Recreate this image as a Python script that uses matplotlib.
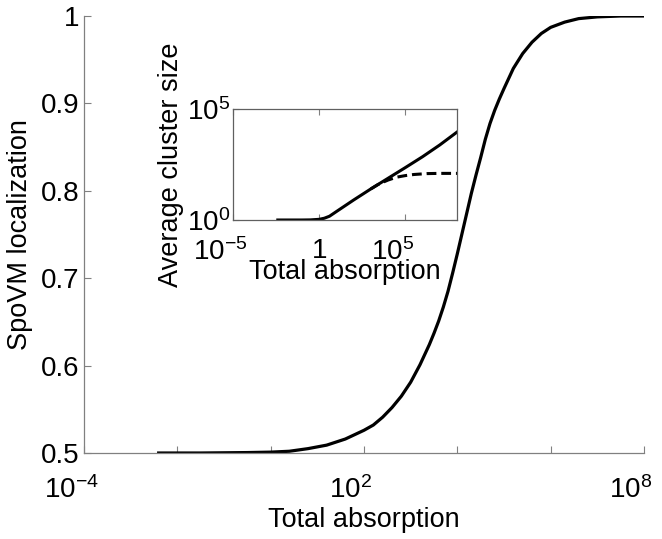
import numpy as np
import matplotlib
matplotlib.use("Agg")
import matplotlib.pyplot as plt
import matplotlib.transforms as mtransforms

plt.rcParams["font.family"] = ["Liberation Sans", "DejaVu Sans"]
plt.rcParams["mathtext.fontset"] = "custom"
plt.rcParams["mathtext.rm"] = "Liberation Sans"
plt.rcParams["mathtext.it"] = "Liberation Sans:italic"
plt.rcParams["mathtext.default"] = "regular"

# main curve: SpoVM localization vs total absorption (x given as log10)
main_logx = [-2.4, -1.5, -0.5, 0.0, 0.4, 0.8, 1.2, 1.6, 2.0, 2.2, 2.4, 2.6,
             2.8, 3.0, 3.2, 3.4, 3.5, 3.6, 3.7, 3.8, 3.9, 4.0, 4.1, 4.2, 4.3,
             4.4, 4.5, 4.6, 4.7, 4.8, 4.9, 5.0, 5.2, 5.4, 5.6, 5.8, 6.0, 6.3,
             6.6, 7.0, 7.5, 8.0]
main_y = [0.500, 0.500, 0.5005, 0.501, 0.502, 0.505, 0.509, 0.516, 0.526,
          0.532, 0.541, 0.552, 0.565, 0.581, 0.601, 0.624, 0.637, 0.651,
          0.667, 0.685, 0.706, 0.728, 0.751, 0.774, 0.797, 0.818, 0.838,
          0.859, 0.877, 0.892, 0.905, 0.917, 0.940, 0.957, 0.970, 0.980,
          0.987, 0.993, 0.997, 0.999, 1.000, 1.000]

# inset: average cluster size (log10 of both axes)
inset_logx = [-2.4, -1.0, -0.5, 0.0, 0.3, 0.6, 1.0, 1.5, 2.0, 2.5, 3.0, 3.5,
              4.0, 5.0, 6.0, 7.0, 8.0]
inset_logy = [0.0, 0.0, 0.005, 0.03, 0.08, 0.17, 0.38, 0.64, 0.9, 1.15, 1.4,
              1.64, 1.88, 2.36, 2.85, 3.38, 3.96]
dash_logx = [3.0, 3.4, 3.7, 4.0, 4.5, 5.0, 5.5, 6.25, 7.0, 8.0]
dash_logy = [1.4, 1.59, 1.70, 1.80, 1.93, 2.0, 2.05, 2.09, 2.10, 2.10]

main_xticks = [-4, -2, 0, 2, 4, 6, 8]
main_xlabels = ["$10^{-4}$", "", "", "$10^{2}$", "", "", "$10^{8}$"]
main_yticks = [0.5, 0.6, 0.7, 0.8, 0.9, 1.0]
main_ylabels = ["0.5", "0.6", "0.7", "0.8", "0.9", "1"]
inset_xlabels = ["$10^{-5}$", "1", "$10^{5}$"]
inset_ylabels = ["$10^{0}$", "$10^{5}$"]

fig = plt.figure(figsize=(6.62, 5.39), dpi=100)
ax = fig.add_axes([84 / 662, 86 / 539, 560 / 662, 437 / 539])
ax.plot(10.0 ** np.array(main_logx), main_y, color="black", lw=2.3)
ax.set_xscale("log")
ax.set_xlim(1e-4, 1e8)
ax.set_ylim(0.5, 1.0)
ax.set_xticks([10.0 ** t for t in main_xticks])
ax.set_xticklabels(main_xlabels)
ax.minorticks_off()
ax.set_yticks(main_yticks)
ax.set_yticklabels(main_ylabels)
ax.tick_params(direction="in", length=5, width=0.8, color="#808080",
               labelsize=20)
ax.tick_params(axis="x", pad=17)
ax.tick_params(axis="y", pad=3)
for s in ["top", "right"]:
    ax.spines[s].set_visible(False)
for s in ["left", "bottom"]:
    ax.spines[s].set_color("#808080")
    ax.spines[s].set_linewidth(0.9)
ax.set_xlabel("Total absorption", fontsize=19.5, labelpad=2)
ax.set_ylabel("SpoVM localization", fontsize=19.5, labelpad=6)

shift = mtransforms.ScaledTranslation(-13 / 100, 0, fig.dpi_scale_trans)
for lab in ax.get_xticklabels():
    lab.set_transform(lab.get_transform() + shift)

# inset
ins = fig.add_axes([233 / 662, 319 / 539, 224 / 662, 111 / 539])
ins.plot(10.0 ** np.array(dash_logx), 10.0 ** np.array(dash_logy),
         color="black", lw=2.2, dashes=(3.2, 1.6))
ins.plot(10.0 ** np.array(inset_logx), 10.0 ** np.array(inset_logy),
         color="black", lw=2.2)
ins.set_xscale("log")
ins.set_yscale("log")
ins.set_xlim(1e-5, 1e8)
ins.set_ylim(1, 1e5)
ins.set_xticks([1e-5, 1, 1e5])
ins.set_xticklabels(inset_xlabels)
ins.set_yticks([1, 1e5])
ins.set_yticklabels(inset_ylabels)
ins.minorticks_off()
ins.tick_params(direction="in", length=4, width=0.8, color="#808080",
                labelsize=20, top=True, right=True)
ins.tick_params(axis="x", pad=13)
ins.tick_params(axis="y", pad=2)
for s in ins.spines.values():
    s.set_color("#606060")
    s.set_linewidth(0.9)
ins.set_xlabel("Total absorption", fontsize=19.5, labelpad=-5)
ins.set_ylabel("Average cluster size", fontsize=19.5, labelpad=2)

for lab in ins.get_xticklabels():
    if lab.get_text() != "1":
        lab.set_transform(lab.get_transform() + shift)

fig.savefig("out.png", dpi=100)
